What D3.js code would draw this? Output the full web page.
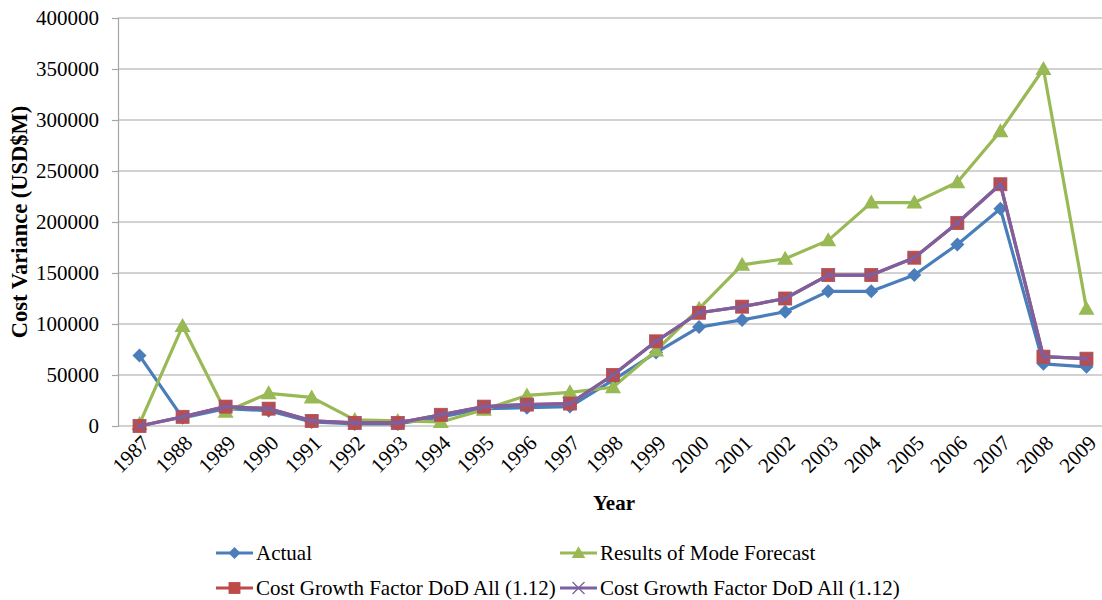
<!DOCTYPE html>
<html>
<head>
<meta charset="utf-8">
<script src="https://cdn.jsdelivr.net/npm/d3@7"></script>
<style>
  html, body { margin: 0; padding: 0; background: #fff; }
  svg { display: block; font-family: "Liberation Serif", "Times New Roman", serif; }
</style>
</head>
<body>
<svg id="chart" width="1102" height="600"></svg>
<script>
// Fiscal years on the category axis
const years = ["1987","1988","1989","1990","1991","1992","1993","1994","1995","1996","1997","1998",
               "1999","2000","2001","2002","2003","2004","2005","2006","2007","2008","2009"];

// Cost variance, USD$M
const actual = [69000, 8000, 17000, 15000, 4000, 2000, 2000, 9000, 17000, 18000, 19000, 45000,
                72000, 97000, 104000, 112000, 132000, 132000, 148000, 178000, 213000, 61000, 58000];
const modeForecast = [2000, 98000, 14000, 32000, 28000, 6000, 5000, 4000, 16000, 30000, 33000, 38000,
                      74000, 115000, 158000, 164000, 182000, 219000, 219000, 239000, 289000, 350000, 115000];
const cgfRed = [0, 9000, 19000, 17000, 5000, 3000, 3000, 11000, 19000, 21000, 22000, 50000,
                83000, 111000, 117000, 125000, 148000, 148000, 165000, 199000, 237000, 68000, 66000];
const cgfPurple = [0, 9000, 19000, 17000, 5000, 3000, 3000, 11000, 19000, 21000, 22000, 50000,
                   83000, 111000, 117000, 125000, 148000, 148000, 165000, 199000, 237000, 68000, 66000];

const yTicks = [0, 50000, 100000, 150000, 200000, 250000, 300000, 350000, 400000];

const series = [
  { name: "Actual", values: actual, color: "#4a7ebb", marker: "diamond" },
  { name: "Results of Mode Forecast", values: modeForecast, color: "#98b954", marker: "triangle" },
  { name: "Cost Growth Factor DoD All (1.12)", values: cgfRed, color: "#be4b48", marker: "square" },
  { name: "Cost Growth Factor DoD All (1.12)", values: cgfPurple, color: "#7d60a0", marker: "cross" }
];

const svg = d3.select("#chart");
const plot = { left: 118, right: 1108, top: 18, bottom: 426 };
const fontSize = "21px";

const x = d3.scalePoint().domain(years).range([plot.left, plot.right]).padding(0.5);
const y = d3.scaleLinear().domain([0, 400000]).range([plot.bottom, plot.top]);

// Horizontal gridlines
svg.append("g")
  .selectAll("line")
  .data(yTicks.filter(d => d > 0))
  .join("line")
  .attr("x1", plot.left).attr("x2", 1102)
  .attr("y1", d => y(d)).attr("y2", d => y(d))
  .attr("stroke", "#a6a6a6").attr("stroke-width", 1.2);

// Y axis
const yAxis = svg.append("g")
  .attr("transform", `translate(${plot.left},0)`)
  .call(d3.axisLeft(y).tickValues(yTicks).tickFormat(d3.format("d")).tickSize(6).tickPadding(13));
yAxis.select(".domain").attr("stroke", "#a6a6a6").attr("stroke-width", 1.2);
yAxis.selectAll(".tick line").attr("stroke", "#a6a6a6").attr("stroke-width", 1.2);
yAxis.selectAll(".tick text")
  .attr("fill", "#000").style("font-size", fontSize)
  .style("font-family", "'Liberation Serif', 'Times New Roman', serif");

// X axis baseline
svg.append("line")
  .attr("x1", plot.left).attr("x2", 1102)
  .attr("y1", plot.bottom).attr("y2", plot.bottom)
  .attr("stroke", "#a6a6a6").attr("stroke-width", 1.2);

// Rotated year labels
svg.append("g")
  .selectAll("text")
  .data(years)
  .join("text")
  .attr("transform", d => `translate(${x(d) + 6},${plot.bottom + 13}) rotate(-45)`)
  .attr("text-anchor", "end")
  .attr("dy", "0.35em")
  .style("font-size", fontSize)
  .text(d => d);

// Axis titles
svg.append("text")
  .attr("transform", "translate(27,222) rotate(-90)")
  .attr("text-anchor", "middle")
  .style("font-size", "22.5px").style("font-weight", "bold")
  .text("Cost Variance (USD$M)");

svg.append("text")
  .attr("x", 614).attr("y", 510)
  .attr("text-anchor", "middle")
  .style("font-size", fontSize).style("font-weight", "bold")
  .text("Year");

// Marker shapes
function drawMarker(g, kind, color, cx, cy, scale = 1) {
  if (kind === "diamond") {
    const r = 7 * scale;
    g.append("path")
      .attr("d", `M${cx},${cy - r}L${cx + r},${cy}L${cx},${cy + r}L${cx - r},${cy}Z`)
      .attr("fill", color);
  } else if (kind === "triangle") {
    const r = 8 * scale;
    g.append("path")
      .attr("d", `M${cx},${cy - r}L${cx + r},${cy + r * 0.75}L${cx - r},${cy + r * 0.75}Z`)
      .attr("fill", color);
  } else if (kind === "square") {
    const r = 6.5 * scale;
    g.append("rect")
      .attr("x", cx - r).attr("y", cy - r).attr("width", 2 * r).attr("height", 2 * r)
      .attr("fill", color).attr("stroke", "#b84a47").attr("stroke-width", 0.8);
  } else if (kind === "cross") {
    const r = 6 * scale;
    g.append("path")
      .attr("d", `M${cx - r},${cy - r}L${cx + r},${cy + r}M${cx - r},${cy + r}L${cx + r},${cy - r}`)
      .attr("stroke", color).attr("stroke-width", 1.3).attr("fill", "none");
  }
}

const line = d3.line()
  .x((d, i) => x(years[i]))
  .y(d => y(d));

// Series lines with markers
series.forEach(s => {
  const g = svg.append("g");
  g.append("path")
    .datum(s.values)
    .attr("d", line)
    .attr("fill", "none")
    .attr("stroke", s.color)
    .attr("stroke-width", 3.2)
    .attr("stroke-linejoin", "round");
  s.values.forEach((v, i) => drawMarker(g, s.marker, s.color, x(years[i]), y(v)));
});

// Legend, two columns by two rows
const legendPos = [
  { x: 216, y: 553 },
  { x: 560, y: 553 },
  { x: 216, y: 588 },
  { x: 560, y: 588 }
];
series.forEach((s, i) => {
  const p = legendPos[i];
  const g = svg.append("g");
  g.append("line")
    .attr("x1", p.x).attr("x2", p.x + 37)
    .attr("y1", p.y).attr("y2", p.y)
    .attr("stroke", s.color).attr("stroke-width", 3.2);
  drawMarker(g, s.marker, s.color, p.x + 18.5, p.y, s.marker === "cross" ? 1 : 0.85);
  g.append("text")
    .attr("x", p.x + 40).attr("y", p.y)
    .attr("dy", "0.35em")
    .style("font-size", fontSize)
    .text(s.name);
});
</script>
</body>
</html>
